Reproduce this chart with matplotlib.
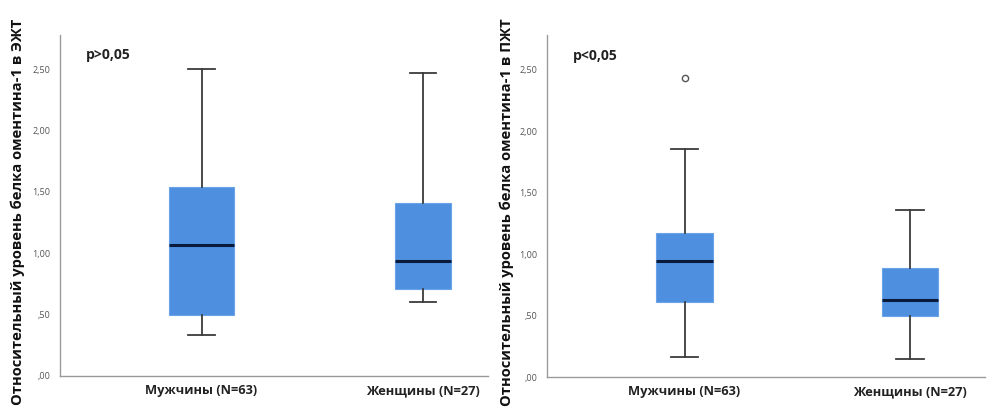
import matplotlib
matplotlib.use("Agg")
import matplotlib.pyplot as plt
from matplotlib.ticker import FuncFormatter

# Group labels
groups = ["Мужчины (N=63)", "Женщины (N=27)"]

# Epicardial adipose tissue (ЭЖТ): whisker low, Q1, median, Q3, whisker high
ezht_whislo = [0.33, 0.60]
ezht_q1 = [0.50, 0.71]
ezht_med = [1.07, 0.94]
ezht_q3 = [1.54, 1.41]
ezht_whishi = [2.50, 2.47]
ezht_fliers = [[], []]

# Subcutaneous adipose tissue (ПЖТ)
pzht_whislo = [0.16, 0.15]
pzht_q1 = [0.61, 0.50]
pzht_med = [0.94, 0.63]
pzht_q3 = [1.17, 0.89]
pzht_whishi = [1.85, 1.36]
pzht_fliers = [[2.43], []]

y_ticks = [0.0, 0.5, 1.0, 1.5, 2.0, 2.5]
y_labels = [",00", ",50", "1,00", "1,50", "2,00", "2,50"]

ylabel_left = "Относительный уровень белка оментина-1 в ЭЖТ"
ylabel_right = "Относительный уровень белка оментина-1 в ПЖТ"
p_left = "p>0,05"
p_right = "p<0,05"

BOX_COLOR = "#4e8fe0"
MED_COLOR = "#0a1a3a"
WHISK_COLOR = "#3c3c3c"
SPINE_COLOR = "#9a9a9a"
FONT = ["Open Sans", "DejaVu Sans"]

plt.rcParams["font.family"] = FONT

fig = plt.figure(figsize=(9.91, 4.11), dpi=100)
ax1 = fig.add_axes([0.0605, 0.0852, 0.432, 0.830])
ax2 = fig.add_axes([0.552, 0.0827, 0.442, 0.832])


def make_stats(lo, q1, med, q3, hi, fliers):
    return [
        dict(whislo=lo[i], q1=q1[i], med=med[i], q3=q3[i], whishi=hi[i],
             fliers=fliers[i], label=groups[i])
        for i in range(len(groups))
    ]


def fmt_tick(v, pos):
    r = round(v, 2)
    return y_labels[y_ticks.index(r)] if r in y_ticks else ""


def draw(ax, stats, widths, xlim, ylabel, label_x, ptext):
    ax.bxp(
        stats, positions=[0, 1], widths=widths, patch_artist=True,
        showfliers=True,
        boxprops=dict(facecolor=BOX_COLOR, edgecolor="#6aa3e8", linewidth=0.8),
        medianprops=dict(color=MED_COLOR, linewidth=2.2),
        whiskerprops=dict(color=WHISK_COLOR, linewidth=1.3),
        capprops=dict(color=WHISK_COLOR, linewidth=1.3),
        capwidths=[0.12, 0.12],
        flierprops=dict(marker="o", markerfacecolor="white",
                        markeredgecolor="#555555", markersize=4.5,
                        markeredgewidth=1.0),
    )
    ax.set_xlim(*xlim)
    ax.set_ylim(0, 2.78)
    ax.set_yticks(y_ticks)
    ax.yaxis.set_major_formatter(FuncFormatter(fmt_tick))
    ax.tick_params(axis="y", length=0, labelsize=6.5, labelcolor="#555555", pad=7)
    ax.tick_params(axis="x", length=0, labelsize=9.3, pad=6)
    for lbl in ax.get_xticklabels():
        lbl.set_fontweight("bold")
        lbl.set_color("#222222")
    for side in ("top", "right"):
        ax.spines[side].set_visible(False)
    for side in ("left", "bottom"):
        ax.spines[side].set_color(SPINE_COLOR)
        ax.spines[side].set_linewidth(1.0)
    ax.set_ylabel(ylabel, fontsize=10.6, fontweight="bold", color="#111111")
    ax.yaxis.set_label_coords(label_x, 0.482)
    ax.text(0.06, 0.94, ptext, transform=ax.transAxes, fontsize=10,
            fontweight="bold", color="#222222", va="center", ha="left")


draw(ax1, make_stats(ezht_whislo, ezht_q1, ezht_med, ezht_q3, ezht_whishi, ezht_fliers),
     [0.29, 0.25], (-0.639, 1.293), ylabel_left, -0.082, p_left)
draw(ax2, make_stats(pzht_whislo, pzht_q1, pzht_med, pzht_q3, pzht_whishi, pzht_fliers),
     [0.25, 0.25], (-0.61, 1.333), ylabel_right, -0.075, p_right)

fig.savefig("out.png", dpi=100, facecolor="white")
